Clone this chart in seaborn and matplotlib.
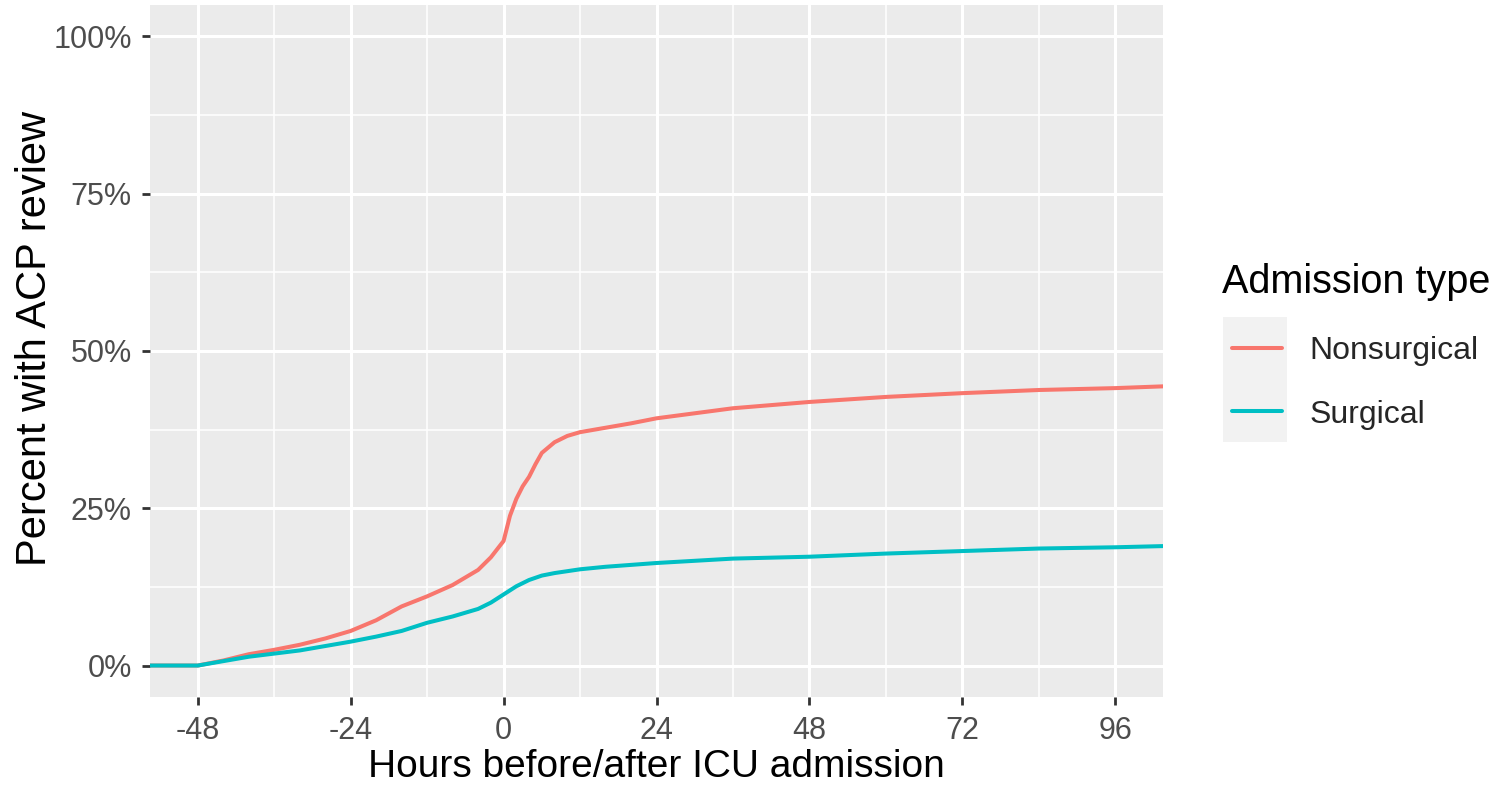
import numpy as np
import pandas as pd
import matplotlib
matplotlib.use("Agg")
import matplotlib.pyplot as plt
import seaborn as sns
from matplotlib.patches import Rectangle
from matplotlib.ticker import FixedLocator, FuncFormatter

# ---- data ----
hours_nonsurg = [-56, -48, -44, -40, -36, -32, -28, -24, -20, -16, -12, -8, -4, -2, 0,
                 1, 2, 3, 4, 5, 6, 8, 10, 12, 16, 20, 24, 30, 36, 42, 48, 60, 72, 84, 96, 104]
pct_nonsurg = [0.0, 0.0, 0.008, 0.018, 0.025, 0.033, 0.043, 0.055, 0.072, 0.094, 0.110, 0.128,
               0.152, 0.172, 0.198, 0.238, 0.265, 0.285, 0.300, 0.320, 0.338, 0.355, 0.365,
               0.371, 0.378, 0.385, 0.393, 0.401, 0.409, 0.414, 0.419, 0.427, 0.433, 0.438,
               0.441, 0.444]
hours_surg = [-56, -48, -44, -40, -36, -32, -28, -24, -20, -16, -12, -8, -4, -2, 0,
              2, 4, 6, 8, 12, 16, 20, 24, 36, 48, 60, 72, 84, 96, 104]
pct_surg = [0.0, 0.0, 0.007, 0.014, 0.019, 0.024, 0.031, 0.038, 0.046, 0.055, 0.068, 0.078,
            0.090, 0.100, 0.113, 0.126, 0.136, 0.143, 0.147, 0.153, 0.157, 0.160, 0.163,
            0.170, 0.173, 0.178, 0.182, 0.186, 0.188, 0.190]
categories = ["Nonsurgical", "Surgical"]
x_ticks = [-48, -24, 0, 24, 48, 72, 96]
y_ticks = [0, 0.25, 0.5, 0.75, 1.0]

df = pd.concat([
    pd.DataFrame({"hours": hours_nonsurg, "pct": pct_nonsurg, "type": categories[0]}),
    pd.DataFrame({"hours": hours_surg, "pct": pct_surg, "type": categories[1]}),
], ignore_index=True)

sns.set_theme(style="whitegrid")
plt.rcParams["font.family"] = ["Liberation Sans", "DejaVu Sans"]

W, H = 1495, 787
fig = plt.figure(figsize=(W / 100, H / 100), dpi=100)
L, R, T, B = 150, 1163, 5, 697
ax = fig.add_axes([L / W, 1 - B / H, (R - L) / W, (B - T) / H])
ax.set_facecolor("#EBEBEB")

palette = {"Nonsurgical": "#F8766D", "Surgical": "#00BFC4"}
sns.lineplot(data=df, x="hours", y="pct", hue="type", hue_order=categories,
             palette=palette, linewidth=2.9, ax=ax, legend=True, zorder=3)

ax.set_xlim(-55.5, 103.5)
ax.set_ylim(-0.05, 1.05)
ax.xaxis.set_major_locator(FixedLocator(x_ticks))
ax.yaxis.set_major_locator(FixedLocator(y_ticks))
ax.xaxis.set_minor_locator(FixedLocator([-60, -36, -12, 12, 36, 60, 84, 108]))
ax.yaxis.set_minor_locator(FixedLocator([0.125, 0.375, 0.625, 0.875]))
ax.yaxis.set_major_formatter(FuncFormatter(lambda v, p: f"{v*100:.0f}%"))
ax.xaxis.set_major_formatter(FuncFormatter(lambda v, p: f"{v:.0f}"))

ax.grid(which="major", color="white", linewidth=2.2)
ax.grid(which="minor", color="white", linewidth=1.1)
ax.set_axisbelow(True)
for s in ax.spines.values():
    s.set_visible(False)

ax.tick_params(axis="both", which="major", length=6, width=2, color="#333333",
               labelsize=22, labelcolor="#4D4D4D", direction="out",
               bottom=True, left=True)
ax.tick_params(axis="x", which="major", pad=8)
ax.tick_params(axis="y", which="major", pad=7)
ax.tick_params(axis="both", which="minor", length=0)

ax.set_xlabel("Hours before/after ICU admission", fontsize=28, color="black", labelpad=2)
ax.set_ylabel("Percent with ACP review", fontsize=30, color="black")
ax.yaxis.set_label_coords((55 - L) / (R - L), (B - 338) / (B - T))

handles, labels = ax.get_legend_handles_labels()
for h in handles:
    h.set_linewidth(2.9)
leg = ax.legend(handles, labels, loc="upper left",
                bbox_to_anchor=(1219 / W, 1 - 323 / H), bbox_transform=fig.transFigure,
                frameon=False, fontsize=23, handlelength=1.565,
                handletextpad=0.875, labelspacing=1.06, borderaxespad=0)
fig.text(1222 / W, 1 - 293 / H, "Admission type", fontsize=28.5, color="black",
         ha="left", va="baseline")
fig.add_artist(Rectangle((1223 / W, 1 - 442 / H), 64 / W, 125 / H,
                         transform=fig.transFigure, facecolor="#F2F2F2",
                         edgecolor="none", zorder=0))

fig.savefig("out.png", dpi=100, facecolor="white")
